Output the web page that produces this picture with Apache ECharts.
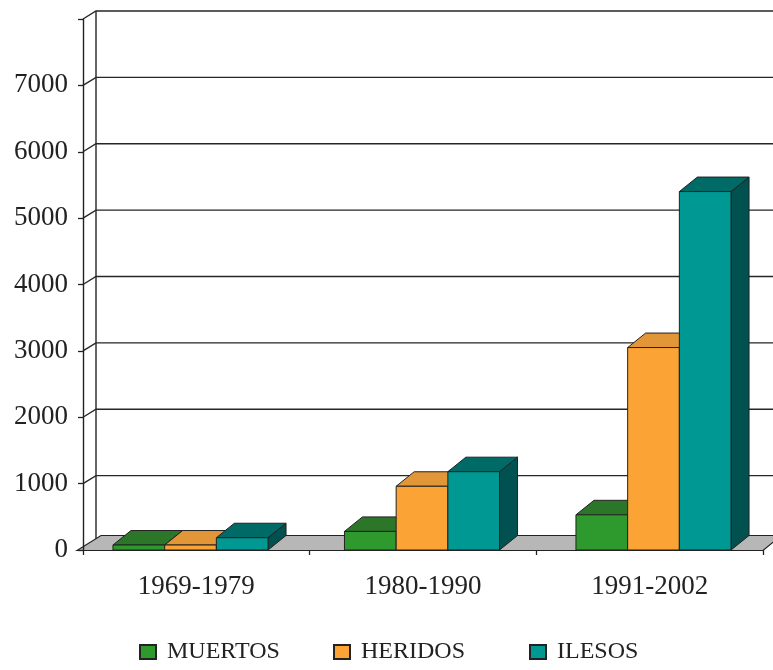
<!DOCTYPE html>
<html>
<head>
<meta charset="utf-8">
<script src="https://cdn.jsdelivr.net/npm/echarts@6/dist/echarts.min.js"></script>
<style>html,body{margin:0;padding:0;background:#fff}#c{width:773px;height:670px}</style>
</head>
<body>
<div id="c"></div>
<script>
const categories = ['1969-1979', '1980-1990', '1991-2002'];
const seriesNames = ['MUERTOS', 'HERIDOS', 'ILESOS'];
const muertos = [75, 280, 530];
const heridos = [75, 960, 3050];
const ilesos = [185, 1180, 5400];
const yTicks = [0, 1000, 2000, 3000, 4000, 5000, 6000, 7000, 8000];

const faceColors = [
  { front: '#2E9A2E', top: '#2C7629', side: '#1F5A1F' },
  { front: '#FBA335', top: '#E29638', side: '#B0702A' },
  { front: '#009892', top: '#006A67', side: '#00514F' }
];
const DX = 18, DY = -14.5;
const WALL_DX = 13, WALL_DY = -8;
const FONT = '"Liberation Serif", "Times New Roman", serif';
const allValues = [muertos, heridos, ilesos];
const legendLefts = [134, 328, 524];

const chart = echarts.init(document.getElementById('c'), null, { renderer: 'canvas' });

function barRenderer(k) {
  return function (params, api) {
    const i = api.value(0);
    const top = api.coord([i, api.value(1)]);
    const base = api.coord([i, 0]);
    const band = api.size([1, 0])[0];
    const w = band * 0.2233;
    const left = top[0] + (k - 1.5) * w;
    const t = top[1], b = base[1];
    const col = faceColors[k];
    const st = { stroke: '#222', lineWidth: 1 };
    return {
      type: 'group',
      children: [
        { type: 'polygon', shape: { points: [[left + w, t], [left + w + DX, t + DY], [left + w + DX, b + DY], [left + w, b]] }, style: Object.assign({ fill: col.side }, st) },
        { type: 'polygon', shape: { points: [[left, t], [left + DX, t + DY], [left + w + DX, t + DY], [left + w, t]] }, style: Object.assign({ fill: col.top }, st) },
        { type: 'rect', shape: { x: left, y: t, width: w, height: b - t }, style: Object.assign({ fill: col.front }, st) }
      ]
    };
  };
}

function wallRenderer(params, api) {
  const cs = params.coordSys;
  const y = api.coord([0, api.value(0)])[1];
  const x0 = cs.x;
  const children = [
    { type: 'polyline', shape: { points: [[x0, y], [x0 + WALL_DX, y + WALL_DY], [800, y + WALL_DY]] }, style: { stroke: '#262626', lineWidth: 1.4, fill: null } }
  ];
  if (params.dataIndex === 0) {
    const yTop = api.coord([0, yTicks[yTicks.length - 1]])[1];
    children.push({ type: 'line', shape: { x1: x0 + WALL_DX, y1: yTop + WALL_DY, x2: x0 + WALL_DX, y2: y + WALL_DY }, style: { stroke: '#262626', lineWidth: 1.4 } });
  }
  return { type: 'group', children: children };
}

function floorRenderer(params, api) {
  const cs = params.coordSys;
  const y = api.coord([0, 0])[1] + 0.5;
  const xl = cs.x, xr = cs.x + cs.width;
  return {
    type: 'polygon',
    shape: { points: [[xl - 6, y], [xl + 18, y - 15], [xr + 18, y - 15], [xr, y]] },
    style: { fill: '#B7B7B7', stroke: '#222', lineWidth: 1.2 }
  };
}

const series = [
  { type: 'custom', name: 'wall', xAxisIndex: 0, yAxisIndex: 0, renderItem: wallRenderer, data: yTicks.map(v => [v]), encode: { y: 0 }, z: 1, silent: true },
  { type: 'custom', name: 'floor', xAxisIndex: 0, yAxisIndex: 0, renderItem: floorRenderer, data: [[0]], encode: { y: 0 }, z: 2, silent: true }
];
seriesNames.forEach((name, k) => {
  series.push({
    type: 'custom', name: name, xAxisIndex: 1, yAxisIndex: 1,
    renderItem: barRenderer(k),
    itemStyle: { color: faceColors[k].front, borderColor: '#222', borderWidth: 1 },
    data: allValues[k].map((v, i) => [i, v]),
    encode: { x: 0, y: 1 }, z: 3 + k
  });
});

const legends = seriesNames.map((name, k) => ({
  data: [name],
  left: legendLefts[k], top: 635,
  itemWidth: 16, itemHeight: 14,
  icon: 'rect',
  textStyle: { fontFamily: FONT, fontSize: 24, color: '#222', padding: [0, 0, 0, 6] }
}));

const option = {
  backgroundColor: '#fff',
  animation: false,
  grid: [
    { left: 83, right: 10, top: 19, bottom: 120 },
    { left: 74.75, right: 3.75, top: 19, bottom: 120 }
  ],
  xAxis: [
    { type: 'category', gridIndex: 0, data: categories, boundaryGap: true,
      axisLine: { show: false },
      axisTick: { show: true, length: 5, lineStyle: { color: '#222', width: 1.3 } },
      axisLabel: { fontFamily: FONT, fontSize: 27, color: '#222', margin: 23 } },
    { type: 'category', gridIndex: 1, data: categories, show: false }
  ],
  yAxis: [
    { type: 'value', gridIndex: 0, min: 0, max: 8000, interval: 1000, z: 10,
      axisLine: { show: true, lineStyle: { color: '#222', width: 1.4 } },
      axisTick: { show: true, length: 5, lineStyle: { color: '#222', width: 1.3 } },
      splitLine: { show: false },
      axisLabel: { fontFamily: FONT, fontSize: 27, color: '#222', margin: 15, padding: [0, 0, 5, 0],
        formatter: v => (v === 8000 ? '' : String(v)) } },
    { type: 'value', gridIndex: 1, min: 0, max: 8000, interval: 1000, show: false }
  ],
  legend: legends,
  series: series
};
chart.setOption(option);
</script>
</body>
</html>
